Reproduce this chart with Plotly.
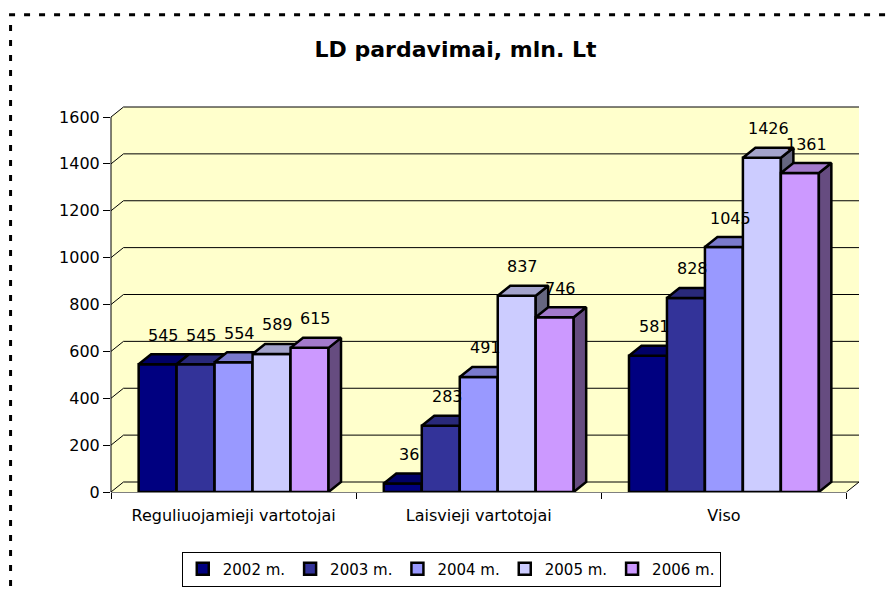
import plotly.graph_objects as go

# ---------------- data ----------------
categories = ["Reguliuojamieji vartotojai", "Laisvieji vartotojai", "Viso"]
years = ["2002 m.", "2003 m.", "2004 m.", "2005 m.", "2006 m."]
values_2002 = [545, 36, 581]
values_2003 = [545, 283, 828]
values_2004 = [554, 491, 1045]
values_2005 = [589, 837, 1426]
values_2006 = [615, 746, 1361]
y_tick_values = [0, 200, 400, 600, 800, 1000, 1200, 1400, 1600]
chart_title = "LD pardavimai, mln. Lt"

series = [values_2002, values_2003, values_2004, values_2005, values_2006]

# ---------------- style ----------------
front_colors = ["#000080", "#333399", "#9999FF", "#CCCCFF", "#CC99FF"]
top_colors = ["#000066", "#29297A", "#7A7ACC", "#A3A3CC", "#A37ACC"]
side_colors = ["#000040", "#1A1A4D", "#4D4D80", "#666680", "#664C80"]
WALL = "#FFFFCC"
FONT = "DejaVu Sans"
FS = 16
EDGE = 2.5

W, H = 890, 594
ML, MR, MT, MB = 111, 30.5, 106, 102
PX_X = 736 / 3.0          # pixels per category
PX_Y = 375 / 1600.0       # pixels per value unit
DX = 12.5 / PX_X          # 3-D depth, x
DY = 10 / PX_Y            # 3-D depth, y
BAR_W = 38 / PX_X
X_MIN = -0.5
X_MAX = X_MIN + (W - ML - MR) / PX_X
Y_MAX = (H - MT - MB) / PX_Y
FRONT_RIGHT = len(categories) - 0.5


def px_to_paper_x(px):
    return (px - ML) / (W - ML - MR)


def px_to_paper_y(py):
    return (H - MB - py) / (H - MT - MB)


def offset(s):
    return -2.5 * BAR_W + s * BAR_W


fig = go.Figure()

n = len(series)
for s, vals in enumerate(series):
    ya = "y" if s == 0 else "y%d" % (s + 1)
    # front faces
    fig.add_trace(go.Bar(
        x=list(range(len(categories))), y=vals, name=years[s],
        width=BAR_W, offset=offset(s), yaxis=ya,
        marker=dict(color=front_colors[s], line=dict(color="black", width=EDGE)),
        cliponaxis=False, hoverinfo="skip",
    ))
    # top & side faces
    tx, ty, sx, sy = [], [], [], []
    for i, v in enumerate(vals):
        x0 = i + offset(s)
        x1 = x0 + BAR_W
        tx += [x0, x0 + DX, x1 + DX, x1, x0, None]
        ty += [v, v + DY, v + DY, v, v, None]
        sx += [x1, x1 + DX, x1 + DX, x1, x1, None]
        sy += [v, v + DY, DY, 0, v, None]
    fig.add_trace(go.Scatter(
        x=sx, y=sy, yaxis=ya, mode="lines", fill="toself",
        fillcolor=side_colors[s], line=dict(color="black", width=EDGE),
        showlegend=False, hoverinfo="skip",
    ))
    fig.add_trace(go.Scatter(
        x=tx, y=ty, yaxis=ya, mode="lines", fill="toself",
        fillcolor=top_colors[s], line=dict(color="black", width=EDGE),
        showlegend=False, hoverinfo="skip",
    ))

# ---------------- walls, floor, gridlines ----------------
shapes = []
wall_path = "M %f,%f L %f,%f L %f,%f L %f,%f L %f,%f L %f,%f Z" % (
    X_MIN, 0, X_MIN, y_tick_values[-1], X_MIN + DX, y_tick_values[-1] + DY,
    FRONT_RIGHT + DX, y_tick_values[-1] + DY, FRONT_RIGHT + DX, DY, FRONT_RIGHT, 0)
shapes.append(dict(type="path", path=wall_path, xref="x", yref="y",
                   fillcolor=WALL, line=dict(width=0), layer="below"))
grid_path = ""
for t in y_tick_values:
    grid_path += "M %f,%f L %f,%f L %f,%f " % (
        X_MIN, t, X_MIN + DX, t + DY, FRONT_RIGHT + DX, t + DY)
grid_path += "M %f,%f L %f,%f" % (FRONT_RIGHT, 0, FRONT_RIGHT + DX, DY)
shapes.append(dict(type="path", path=grid_path, xref="x", yref="y",
                   line=dict(color="black", width=1), layer="below"))
# floor front edge (x axis line)
shapes.append(dict(type="line", xref="x", yref="paper", x0=X_MIN, x1=FRONT_RIGHT,
                   y0=0, y1=0, line=dict(color="black", width=1), layer="below"))
# y axis line
shapes.append(dict(type="line", xref="paper", yref="y", x0=0, x1=0,
                   y0=0, y1=y_tick_values[-1], line=dict(color="black", width=1),
                   layer="above"))
# dashed chart border
shapes.append(dict(type="line", xref="paper", yref="paper",
                   x0=px_to_paper_x(9), x1=px_to_paper_x(900),
                   y0=px_to_paper_y(14.7), y1=px_to_paper_y(14.7),
                   line=dict(color="black", width=3, dash="6px,9px")))
shapes.append(dict(type="line", xref="paper", yref="paper",
                   x0=px_to_paper_x(10.5), x1=px_to_paper_x(10.5),
                   y0=px_to_paper_y(25), y1=px_to_paper_y(600),
                   line=dict(color="black", width=3, dash="6px,9px")))

# ---------------- data labels ----------------
annotations = []
for s, vals in enumerate(series):
    for i, v in enumerate(vals):
        annotations.append(dict(
            x=i + offset(s) + BAR_W / 2 + DX / 2, y=v + DY, xref="x", yref="y",
            text=str(v), showarrow=False, yshift=19,
            xanchor="center", yanchor="middle",
            font=dict(family=FONT, size=FS, color="black")))

layout = dict(
    width=W, height=H, autosize=False,
    margin=dict(l=ML, r=MR, t=MT, b=MB, pad=0, autoexpand=False),
    paper_bgcolor="white", plot_bgcolor="rgba(0,0,0,0)",
    barmode="overlay",
    title=dict(text=chart_title, x=455.5 / W, xref="container", xanchor="center",
               y=1 - 49 / H, yref="container", yanchor="middle",
               font=dict(family=FONT, size=22, color="black", weight="bold")),
    xaxis=dict(range=[X_MIN, X_MAX], tickmode="array",
               tickvals=list(range(len(categories))), ticktext=categories,
               ticks="outside", ticklen=9, tickcolor="rgba(0,0,0,0)",
               minor=dict(tickmode="array",
                          tickvals=[k - 0.5 for k in range(len(categories) + 1)],
                          ticks="outside", ticklen=6, tickcolor="black", tickwidth=1),
               showgrid=False, zeroline=False, showline=False,
               tickfont=dict(family=FONT, size=FS, color="black"),
               fixedrange=True),
    yaxis=dict(range=[0, Y_MAX], tickmode="array", tickvals=y_tick_values,
               ticks="outside", ticklen=7, tickcolor="black", tickwidth=1,
               showgrid=False, zeroline=False, showline=False,
               tickfont=dict(family=FONT, size=FS, color="black"),
               fixedrange=True),
    legend=dict(orientation="h", x=px_to_paper_x(451.5), xanchor="center",
                y=px_to_paper_y(569), yanchor="middle",
                bordercolor="black", borderwidth=1, bgcolor="white",
                font=dict(family=FONT, size=15, color="black"),
                itemwidth=30, traceorder="normal"),
    shapes=shapes,
    annotations=annotations,
    showlegend=True,
)
for k in range(2, n + 1):
    layout["yaxis%d" % k] = dict(overlaying="y", range=[0, Y_MAX], visible=False,
                                 fixedrange=True)
fig.update_layout(**layout)

fig.write_html("out.html",
               config={"displayModeBar": False},
               post_script="document.body.style.margin='0px';"
                           "document.body.style.overflow='hidden';")
